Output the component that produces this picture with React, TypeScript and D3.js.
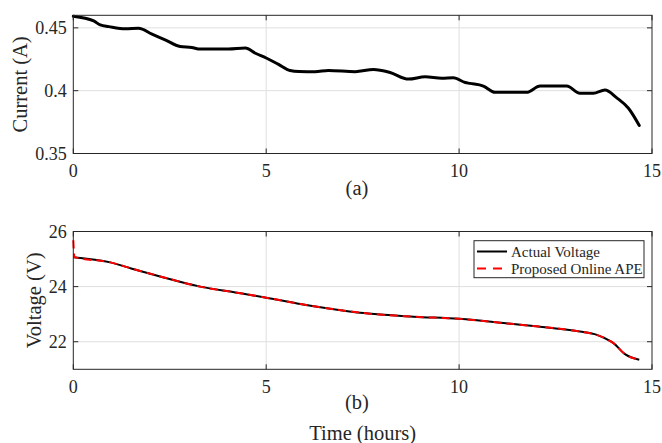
import React from "react";
import * as d3 from "d3";

const currentTime = [0, 0.53, 0.7, 0.92, 1.35, 1.69, 2.04, 2.38, 2.77, 3.07, 3.29, 4.02, 4.46, 4.72, 5.0, 5.32, 5.62, 5.85, 6.27, 6.61, 7.31, 7.78, 8.21, 8.69, 9.12, 9.55, 9.85, 10.16, 10.28, 10.63, 10.93, 11.75, 12.1, 12.79, 13.13, 13.48, 13.78, 14.08, 14.39, 14.67];
const current = [0.4593, 0.4555, 0.4523, 0.451, 0.4492, 0.4497, 0.445, 0.4405, 0.4352, 0.4344, 0.4331, 0.4331, 0.4339, 0.4298, 0.426, 0.4209, 0.4161, 0.4153, 0.4151, 0.4161, 0.4151, 0.4169, 0.4145, 0.4092, 0.4111, 0.4098, 0.4103, 0.4065, 0.4058, 0.4037, 0.3987, 0.3987, 0.4037, 0.4037, 0.3979, 0.3979, 0.4005, 0.3945, 0.386, 0.3723];

const voltTime = [0, 0.96, 1.5, 2.25, 3.29, 4.2, 5.0, 5.8, 6.66, 7.52, 8.82, 10.0, 11.41, 12.0, 13.13, 13.57, 13.91, 14.0, 14.3, 14.67];
const actualVoltage = [25.07, 24.88, 24.66, 24.37, 24.0, 23.79, 23.6, 23.39, 23.2, 23.04, 22.91, 22.83, 22.64, 22.56, 22.37, 22.25, 22.03, 21.95, 21.55, 21.35];
const estTime = [0, 0.03, 0.96, 1.5, 2.25, 3.29, 4.2, 5.0, 5.8, 6.66, 7.52, 8.82, 10.0, 11.41, 12.0, 13.13, 13.57, 13.91, 14.0, 14.3, 14.67];
const estimatedVoltage = [25.68, 25.07, 24.88, 24.66, 24.37, 24.0, 23.79, 23.6, 23.39, 23.2, 23.04, 22.91, 22.83, 22.64, 22.56, 22.37, 22.25, 22.03, 21.95, 21.55, 21.35];

const xTicks = [0, 5, 10, 15];
const currentTicks = [0.35, 0.4, 0.45];
const currentTickLabels = ["0.35", "0.4", "0.45"];
const voltTicks = [22, 24, 26];
const legendLabels = ["Actual Voltage", "Proposed Online APE"];

const FONT = "'Liberation Serif', 'Times New Roman', serif";
const AX = "#262626";
const GRID = "#dfdfdf";

const X0 = 73.3, X1 = 652;
const topY0 = 15.3, topY1 = 153.5;
const botY0 = 231.5, botY1 = 369.3;

export default function App() {
  const x = d3.scaleLinear().domain([0, 15]).range([X0, X1]);
  const yI = d3.scaleLinear().domain([0.35, 0.46]).range([topY1, topY0]);
  const yV = d3.scaleLinear().domain([21, 26]).range([botY1, botY0]);

  const curLine = d3.line<number>().x((_, i) => x(currentTime[i])).y((d) => yI(d)).curve(d3.curveMonotoneX);
  const actLine = d3.line<number>().x((_, i) => x(voltTime[i])).y((d) => yV(d)).curve(d3.curveMonotoneX);
  const estLine = d3.line<number>().x((_, i) => x(estTime[i])).y((d) => yV(d)).curve(d3.curveMonotoneX);

  const tick = 5;

  const frame = (y0: number, y1: number, yTicks: number[], yS: (v: number) => number, yLabels: string[]) => (
    <g>
      {xTicks.slice(1, -1).map((t) => (
        <line key={"gx" + t} x1={x(t)} x2={x(t)} y1={y0} y2={y1} stroke={GRID} strokeWidth={1} />
      ))}
      {yTicks.filter((t) => yS(t) > y0 + 1 && yS(t) < y1 - 1).map((t) => (
        <line key={"gy" + t} x1={X0} x2={X1} y1={yS(t)} y2={yS(t)} stroke={GRID} strokeWidth={1} />
      ))}
      {xTicks.map((t) => (
        <g key={"tx" + t}>
          <line x1={x(t)} x2={x(t)} y1={y1} y2={y1 - tick} stroke={AX} />
          <line x1={x(t)} x2={x(t)} y1={y0} y2={y0 + tick} stroke={AX} />
          <text x={x(t)} y={y1 + 23.6} textAnchor="middle" fontFamily={FONT} fontSize={18} fill={AX}>{t}</text>
        </g>
      ))}
      {yTicks.map((t, i) => (
        <g key={"ty" + t}>
          <line x1={X0} x2={X0 + tick} y1={yS(t)} y2={yS(t)} stroke={AX} />
          <line x1={X1} x2={X1 - tick} y1={yS(t)} y2={yS(t)} stroke={AX} />
          <text x={X0 - 6.5} y={yS(t) + 6} textAnchor="end" fontFamily={FONT} fontSize={18} fill={AX}>{yLabels[i]}</text>
        </g>
      ))}
    </g>
  );

  const box = (y0: number, y1: number) => (
    <rect x={X0} y={y0} width={X1 - X0} height={y1 - y0} fill="none" stroke={AX} strokeWidth={1} />
  );

  return (
    <svg width={662} height={443} style={{ position: "absolute", left: 0, top: 0, background: "#fff" }}>
      <rect x={0} y={0} width={662} height={443} fill="#fff" />
      {/* Top plot */}
      {frame(topY0, topY1, currentTicks, yI, currentTickLabels)}
      <path d={curLine(current) || ""} fill="none" stroke="#000" strokeWidth={3} strokeLinejoin="round" strokeLinecap="round" />
      {box(topY0, topY1)}
      <text transform={`translate(26.5, ${(topY0 + topY1) / 2}) rotate(-90)`} textAnchor="middle" fontFamily={FONT} fontSize={20.5} fill={AX}>Current (A)</text>
      <text x={357} y={195} textAnchor="middle" fontFamily={FONT} fontSize={20.5} fill={AX}>(a)</text>

      {/* Bottom plot */}
      {frame(botY0, botY1, voltTicks, yV, voltTicks.map(String))}
      <path d={actLine(actualVoltage) || ""} fill="none" stroke="#000" strokeWidth={2} strokeLinejoin="round" />
      <path d={estLine(estimatedVoltage) || ""} fill="none" stroke="#ff0000" strokeWidth={2} strokeDasharray="8,5" />
      {box(botY0, botY1)}
      <text transform={`translate(40.5, ${(botY0 + botY1) / 2}) rotate(-90)`} textAnchor="middle" fontFamily={FONT} fontSize={20.5} fill={AX}>Voltage (V)</text>
      <text x={357} y={409} textAnchor="middle" fontFamily={FONT} fontSize={20.5} fill={AX}>(b)</text>
      <text x={(X0 + X1) / 2} y={439.5} textAnchor="middle" fontFamily={FONT} fontSize={20.5} fill={AX}>Time (hours)</text>

      {/* Legend */}
      <g>
        <rect x={474} y={240.7} width={170} height={37} fill="#fff" stroke={AX} strokeWidth={1} />
        <line x1={477} x2={507} y1={251.5} y2={251.5} stroke="#000" strokeWidth={2} />
        <text x={511} y={256.5} fontFamily={FONT} fontSize={15} fill={AX}>{legendLabels[0]}</text>
        <line x1={477} x2={507} y1={268.5} y2={268.5} stroke="#ff0000" strokeWidth={2} strokeDasharray="9,7" />
        <text x={511} y={273.5} fontFamily={FONT} fontSize={15} fill={AX}>{legendLabels[1]}</text>
      </g>
    </svg>
  );
}
